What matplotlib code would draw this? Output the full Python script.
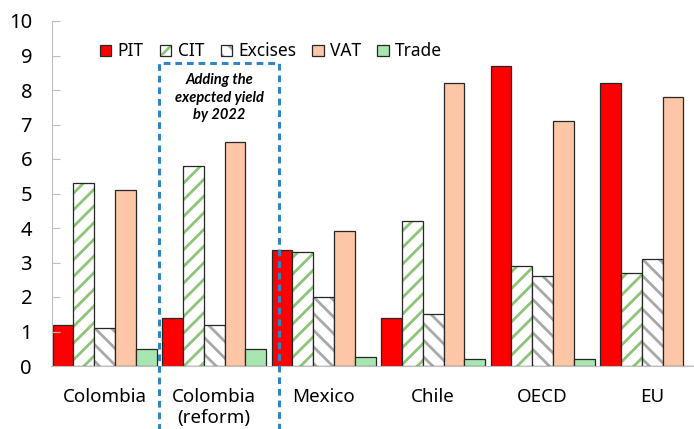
import numpy as np
import matplotlib
matplotlib.use("Agg")
import matplotlib.pyplot as plt
import matplotlib.patches as patches
from matplotlib.legend_handler import HandlerTuple

plt.rcParams['font.family'] = ['Noto Sans', 'DejaVu Sans']
plt.rcParams['hatch.linewidth'] = 2.0

# data
categories = ['Colombia', 'Colombia\n(reform)', 'Mexico', 'Chile', 'OECD', 'EU']
series = ['PIT', 'CIT', 'Excises', 'VAT', 'Trade']
pit = [1.2, 1.4, 3.35, 1.4, 8.7, 8.2]
cit = [5.3, 5.8, 3.3, 4.2, 2.9, 2.7]
excises = [1.1, 1.2, 2.0, 1.5, 2.6, 3.1]
vat = [5.1, 6.5, 3.9, 8.2, 7.1, 7.8]
trade = [0.5, 0.5, 0.25, 0.2, 0.2, 0.0]
note = "Adding the\nexepcted yield\nby 2022"

values = [pit, cit, excises, vat, trade]
faces = ['#ff0000', 'white', 'white', '#fcc6a7', '#a8e6b1']
hatches = [None, '//', '\\\\', None, None]
hatch_cols = [None, '#8cc578', '#a8a8a8', None, None]
edge = '#262626'

fig = plt.figure(figsize=(6.94, 4.29), dpi=100)
ax = fig.add_axes([51.5/694, 1 - 366/429, 1 - 51.5/694, (366 - 21)/429])

x = np.arange(len(categories))
w = 0.19
handles = []
for k, (name, vals) in enumerate(zip(series, values)):
    pos = x + (k - 2) * w
    if hatches[k]:
        ax.bar(pos, vals, w, color='white', edgecolor=hatch_cols[k],
               hatch=hatches[k], linewidth=0)
        ax.bar(pos, vals, w, fill=False, edgecolor=edge, linewidth=0.9)
        h1 = patches.Patch(facecolor='white', edgecolor=hatch_cols[k],
                           hatch=hatches[k], linewidth=0)
        h2 = patches.Patch(fill=False, edgecolor=edge, linewidth=0.9)
        handles.append((h1, h2))
    else:
        ax.bar(pos, vals, w, color=faces[k], edgecolor=edge, linewidth=0.9)
        handles.append(patches.Patch(facecolor=faces[k], edgecolor=edge,
                                     linewidth=0.9))

ax.set_xlim(-0.485, -0.485 + (694 - 51.5) / 109.5)
ax.set_ylim(0, 10)
ax.set_yticks(range(0, 11))
ax.set_xticks(x)
ax.set_xticklabels(categories)
ax.tick_params(axis='y', direction='in', length=6, width=0.8,
               color='#bfbfbf', labelsize=14.5, pad=14)
ax.tick_params(axis='x', length=0, labelsize=13.5, pad=16)
for s in ['top', 'right']:
    ax.spines[s].set_visible(False)
ax.spines['left'].set_color('#bfbfbf')
ax.spines['bottom'].set_color('#bfbfbf')

leg = ax.legend(handles, series, handler_map={tuple: HandlerTuple(ndivide=1)},
                ncol=5, loc='upper left', bbox_to_anchor=(0.065, 0.958),
                frameon=False, fontsize=12.5, handlelength=0.65, handleheight=0.65,
                handletextpad=0.35, columnspacing=0.95, borderaxespad=0)

# dashed box around reform group
box = patches.Rectangle((0.5, -2.5), 1.59 - 0.5, 8.78 + 2.5, fill=False,
                        edgecolor='#2e86c8', linewidth=2.2,
                        linestyle=(0, (2.2, 1.6)), clip_on=False, zorder=5)
ax.add_patch(box)
ax.text((0.5 + 1.59) / 2, 8.5, note, ha='center', va='top', family='Lato',
        fontsize=10.5, fontweight='bold', fontstyle='italic', linespacing=1.35)

fig.savefig('out.png', dpi=100)
